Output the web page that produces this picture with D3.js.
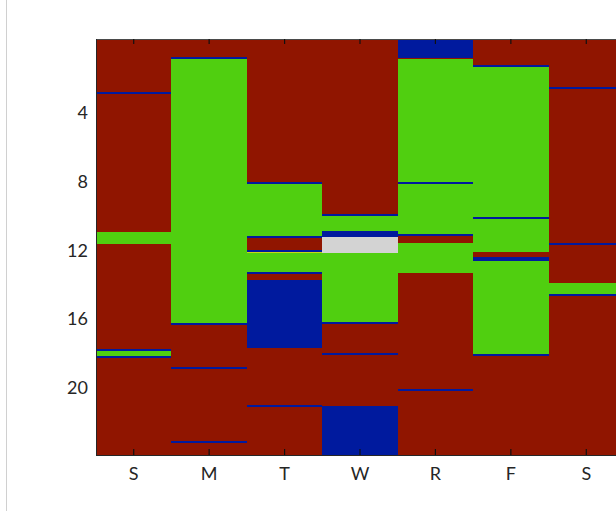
<!DOCTYPE html>
<html>
<head>
<meta charset="utf-8">
<script src="https://cdn.jsdelivr.net/npm/d3@7"></script>
<style>
  html, body { margin: 0; padding: 0; background: #ffffff; }
  svg { display: block; }
</style>
</head>
<body>
<svg id="chart" width="616" height="511"></svg>
<script>
// ---------- data ----------
const days = ["S", "M", "T", "W", "R", "F", "S"];
const yTicks = [4, 8, 12, 16, 20];
const yMin = -0.3, yMax = 23.9;

// state codes: R = red, G = green, B = blue, L = light grey, Y = yellow
const stateColors = { R: "#901500", G: "#50cf10", B: "#001a9e", L: "#d3d3d3", Y: "#c8d818" };

// each day: list of [hour where the state starts, state]
const sun1 = [[-0.3, "R"], [2.79, "B"], [2.90, "R"], [10.93, "G"], [11.64, "R"],
              [17.76, "B"], [17.87, "G"], [18.16, "B"], [18.27, "R"]];
const mon  = [[-0.3, "R"], [0.75, "B"], [0.86, "G"], [16.25, "B"], [16.36, "R"],
              [18.79, "B"], [18.90, "R"], [23.09, "B"], [23.20, "R"]];
const tue  = [[-0.3, "R"], [8.04, "B"], [8.15, "G"], [11.15, "B"], [11.26, "R"],
              [12.00, "B"], [12.09, "Y"], [12.14, "G"], [13.28, "B"], [13.39, "R"],
              [13.72, "B"], [17.69, "R"], [20.98, "B"], [21.09, "R"]];
const wed  = [[-0.3, "R"], [9.89, "B"], [10.00, "G"], [10.89, "B"], [11.20, "L"],
              [12.17, "G"], [16.17, "B"], [16.28, "R"], [17.97, "B"], [18.08, "R"],
              [21.03, "B"]];
const thu  = [[-0.3, "B"], [0.79, "R"], [0.85, "G"], [8.04, "B"], [8.15, "G"],
              [11.07, "B"], [11.18, "R"], [11.58, "G"], [13.33, "R"], [20.07, "B"],
              [20.18, "R"]];
const fri  = [[-0.3, "R"], [1.22, "B"], [1.33, "G"], [10.06, "B"], [10.17, "G"],
              [12.11, "R"], [12.40, "B"], [12.60, "G"], [18.03, "B"], [18.14, "R"]];
const sat  = [[-0.3, "R"], [2.52, "B"], [2.63, "R"], [11.56, "B"], [11.67, "R"],
              [13.91, "G"], [14.54, "B"], [14.65, "R"]];
const schedule = [sun1, mon, tue, wed, thu, fri, sat];

// ---------- layout ----------
const svg = d3.select("#chart");
const mLeft = 96, mRight = 624, mTop = 39, mBottom = 455;

const x = d3.scaleBand().domain(d3.range(days.length)).range([mLeft, mRight]).padding(0);
const y = d3.scaleLinear().domain([yMin, yMax]).range([mTop, mBottom]);

// faint page border line on the left
svg.append("line").attr("x1", 6.5).attr("x2", 6.5).attr("y1", 0).attr("y2", 511)
  .attr("stroke", "#d0d0d0").attr("stroke-width", 1);

// build segments
const segs = [];
schedule.forEach((day, i) => {
  day.forEach((d, k) => {
    const end = k + 1 < day.length ? day[k + 1][0] : yMax;
    segs.push({ col: i, start: d[0], end: end, state: d[1] });
  });
});

svg.append("g").attr("shape-rendering", "crispEdges")
  .selectAll("rect").data(segs).join("rect")
  .attr("x", d => x(d.col))
  .attr("width", x.bandwidth())
  .attr("y", d => y(d.start))
  .attr("height", d => y(d.end) - y(d.start))
  .attr("fill", d => stateColors[d.state]);

// ---------- axes ----------
const axisColor = "#262626";
const font = "Lato, 'Open Sans', sans-serif";

// box lines (top, bottom, left)
svg.append("line").attr("x1", mLeft).attr("x2", mRight).attr("y1", mTop + 0.5).attr("y2", mTop + 0.5)
  .attr("stroke", "#4a4a4a").attr("stroke-width", 1.2);
svg.append("line").attr("x1", mLeft).attr("x2", mRight).attr("y1", mBottom + 0.5).attr("y2", mBottom + 0.5)
  .attr("stroke", axisColor).attr("stroke-width", 1.2);
svg.append("line").attr("x1", mLeft + 0.5).attr("x2", mLeft + 0.5).attr("y1", mTop).attr("y2", mBottom)
  .attr("stroke", axisColor).attr("stroke-width", 1);

// x axis (bottom) with inward ticks
const xAxis = d3.axisBottom(x).tickFormat(i => days[i]).tickSizeInner(-6).tickSizeOuter(0).tickPadding(12);
const gx = svg.append("g").attr("transform", `translate(0,${mBottom})`).call(xAxis);
gx.select(".domain").remove();
gx.selectAll(".tick line").attr("stroke", "#111").attr("stroke-width", 1.2);
gx.selectAll("text").attr("fill", axisColor).style("font-family", font).style("font-size", "18px");

// top ticks
const gxt = svg.append("g").attr("transform", `translate(0,${mTop})`)
  .call(d3.axisTop(x).tickFormat("").tickSizeInner(-5).tickSizeOuter(0));
gxt.select(".domain").remove();
gxt.selectAll(".tick line").attr("stroke", "#111").attr("stroke-width", 1.2);

// y axis labels
const yAxis = d3.axisLeft(y).tickValues(yTicks).tickSizeInner(0).tickSizeOuter(0).tickPadding(8);
const gy = svg.append("g").attr("transform", `translate(${mLeft},0)`).call(yAxis);
gy.select(".domain").remove();
gy.selectAll(".tick line").remove();
gy.selectAll("text").attr("fill", axisColor).style("font-family", font).style("font-size", "18px");
</script>
</body>
</html>
